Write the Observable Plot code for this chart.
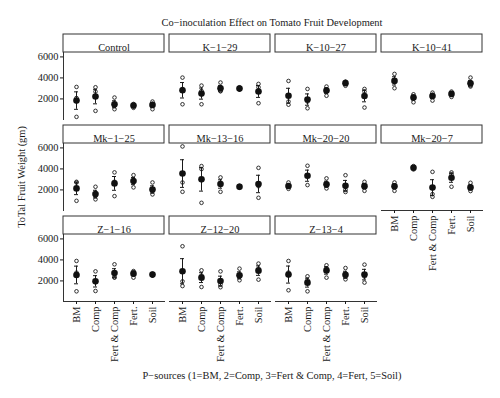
<!DOCTYPE html>
<html><head><meta charset="utf-8">
<script src="https://cdn.jsdelivr.net/npm/d3@7"></script>
<script src="https://cdn.jsdelivr.net/npm/@observablehq/plot@0.6"></script>
<style>
body{margin:0;background:#fff;}
#wrap{position:relative;width:500px;height:398px;font-family:'Liberation Serif','DejaVu Serif',serif;color:#1a1a1a;}
#wrap svg{position:absolute;left:0;top:0;}
.t{position:absolute;white-space:nowrap;font-size:10.4px;line-height:13px;}
</style></head><body>
<div id="wrap"></div>
<script>
const sources = ["BM", "Comp", "Fert & Comp", "Fert.", "Soil"];
const panels = ["Control", "K−1−29", "K−10−27", "K−10−41", "Mk−1−25", "Mk−13−16", "Mk−20−20", "Mk−20−7", "Z−1−16", "Z−12−20", "Z−13−4"];
// replicate fruit weights (gm); one triple per P-source: BM, Comp, Fert & Comp, Fert., Soil
const control = [[3140, 2090, 290], [3110, 2700, 860], [2130, 1330, 1020], [1520, 1420, 1150], [1750, 1520, 1020]];
const k1_29   = [[4030, 2950, 1490], [3270, 2760, 1490], [3560, 2760, 2730], [3110, 2950, 2890], [3430, 3110, 1590]];
const k10_27  = [[3710, 1750, 1450], [2950, 1750, 1110], [3180, 2900, 2300], [3650, 3600, 3250], [2950, 2700, 1180]];
const k10_41  = [[4380, 3750, 3020], [2440, 2250, 1680], [2600, 2400, 1840], [2700, 2540, 2190], [4030, 3270, 3180]];
const mk1_25  = [[2770, 2700, 960], [2300, 1410, 1100], [3670, 2780, 1410], [3410, 2870, 2240], [2710, 1860, 1570]];
const mk13_16 = [[6140, 2710, 1820], [4270, 3980, 770], [3190, 2680, 1820], [2400, 2300, 2200], [4100, 2350, 1250]];
const mk20_20 = [[2710, 2300, 2100], [4300, 3300, 2460], [3100, 2400, 2140], [3400, 2000, 1800], [2770, 2400, 1910]];
const mk20_7  = [[2710, 2400, 1910], [4270, 4100, 3950], [3720, 1600, 1340], [3670, 3500, 2300], [2680, 2150, 1890]];
const z1_16   = [[3900, 2790, 1010], [2910, 1930, 1040], [3580, 2360, 2310], [2940, 2830, 2310], [2700, 2600, 2500]];
const z12_20  = [[5300, 1960, 1510], [3010, 2510, 1420], [2910, 1650, 1400], [3170, 2370, 2060], [3650, 3170, 2120]];
const z13_4   = [[3900, 2800, 1110], [2440, 2060, 1010], [3490, 3200, 2310], [3230, 2400, 2150], [3550, 2410, 1840]];
const yTicks = [2000, 4000, 6000];

const series = [control, k1_29, k10_27, k10_41, mk1_25, mk13_16, mk20_20, mk20_7, z1_16, z12_20, z13_4];
const NCOL = 4;
const rows = [];
series.forEach((s, i) => s.forEach((vals, j) => vals.forEach(v =>
  rows.push({panel: panels[i], col: i % NCOL, row: Math.floor(i / NCOL), source: sources[j], value: v}))));
const strips = panels.map((p, i) => ({panel: p, col: i % NCOL, row: Math.floor(i / NCOL)}));

const se = V => d3.deviation(V) / Math.sqrt(V.length);
const lo = V => d3.mean(V) - se(V);
const hi = V => d3.mean(V) + se(V);

const PANEL_H = 67, STRIP_H = 18, FS = 10.4;
const ink = "#1a1a1a", line = "#333";
const F = {fx: "col", fy: "row"};

const chart = Plot.plot({
  width: 500, height: 398,
  marginTop: 52, marginBottom: 97, marginLeft: 62, marginRight: 17.7,
  fx: {axis: null, domain: [0, 1, 2, 3], paddingInner: 0.05, paddingOuter: 0},
  fy: {axis: null, domain: [0, 1, 2], paddingInner: 0.264, paddingOuter: 0},
  x: {type: "band", domain: sources, paddingInner: 0.8, paddingOuter: 0.5, axis: null},
  y: {domain: [40, 6420], axis: null},
  style: {fontFamily: "'Liberation Serif','DejaVu Serif',serif", fontSize: FS + "px", color: ink, background: "white"},
  marks: [
    Plot.rect(strips, {...F, fill: "white", stroke: line, strokeWidth: 1, insetTop: -STRIP_H, insetBottom: PANEL_H}),
    Plot.text(strips, {...F, text: "panel", frameAnchor: "top", dy: -STRIP_H / 2, fontSize: FS, fill: ink}),
    Plot.frame({anchor: "left", facetAnchor: "left", stroke: line}),
    Plot.frame({anchor: "bottom", facetAnchor: "bottom-empty", stroke: line}),
    Plot.axisY({ticks: yTicks, tickFormat: d => String(d), tickSize: 3, tickPadding: 2, facetAnchor: "left", label: null, fontSize: FS, color: ink}),
    Plot.axisX({tickRotate: -90, tickSize: 3, tickPadding: 2, facetAnchor: "bottom-empty", label: null, fontSize: FS, color: ink}),
    Plot.dot(rows, {...F, x: "source", y: "value", r: 1.8, stroke: ink, strokeWidth: 0.9, fill: "none"}),
    Plot.ruleX(rows, Plot.groupX({y1: lo, y2: hi}, {...F, x: "source", y1: "value", y2: "value", stroke: ink, strokeWidth: 1})),
    Plot.tickY(rows, Plot.groupX({y: lo}, {...F, x: "source", y: "value", stroke: ink, strokeWidth: 1})),
    Plot.tickY(rows, Plot.groupX({y: hi}, {...F, x: "source", y: "value", stroke: ink, strokeWidth: 1})),
    Plot.dot(rows, Plot.groupX({y: "mean"}, {...F, x: "source", y: "value", r: 3.3, fill: "#111", stroke: "none"}))
  ]
});
const wrap = document.getElementById("wrap");
wrap.appendChild(chart);
function addText(txt, x, y, rot) {
  const d = document.createElement("div");
  d.className = "t";
  d.textContent = txt;
  d.style.left = x + "px";
  d.style.top = y + "px";
  d.style.transform = "translate(-50%,-50%)" + (rot ? " rotate(" + rot + "deg)" : "");
  wrap.appendChild(d);
}
addText("Co−inoculation Effect on Tomato Fruit Development", 272, 21.5);
addText("ToTal Fruit Weight (gm)", 21, 176.5, -90);
addText("P−sources (1=BM, 2=Comp, 3=Fert & Comp, 4=Fert, 5=Soil)", 272, 375);
</script>
</body></html>
